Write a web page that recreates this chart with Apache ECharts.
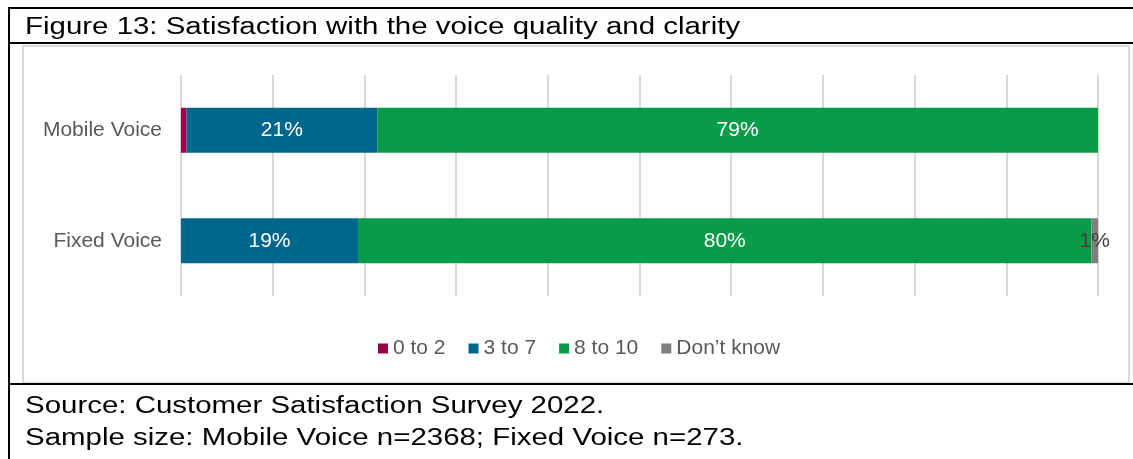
<!DOCTYPE html>
<html>
<head>
<meta charset="utf-8">
<script src="https://cdn.jsdelivr.net/npm/echarts@6/dist/echarts.min.js"></script>
<style>
    body { margin: 0; background: #fff; font-family: "Liberation Sans", Arial, sans-serif; }
    #page { position: relative; width: 1133px; height: 459px; overflow: hidden; }
    .hline { position: absolute; left: 8px; width: 1125px; height: 2px; background: #000; }
    .vline { position: absolute; left: 8px; top: 7px; width: 2px; height: 452px; background: #000; }
    .txt { position: absolute; left: 25px; font-size: 23px; color: #000; white-space: nowrap;
           transform: scaleX(1.28); transform-origin: left top; }
    #box { position: absolute; left: 22px; top: 45px; width: 1104px; height: 335px; border: 2px solid #d9d9d9; }
    #chart-container { position: absolute; left: 0; top: 0; width: 1133px; height: 459px; }
</style>
</head>
<body>
<div id="page">
    <div id="box"></div>
    <div id="chart-container"></div>
    <div class="hline" style="top:7px"></div>
    <div class="hline" style="top:42px"></div>
    <div class="hline" style="top:383px"></div>
    <div class="vline"></div>
    <div class="txt" style="top:13px">Figure 13: Satisfaction with the voice quality and clarity</div>
    <div class="txt" style="top:392px">Source: Customer Satisfaction Survey 2022.</div>
    <div class="txt" style="top:424px">Sample size: Mobile Voice n=2368; Fixed Voice n=273.</div>
</div>
<script>
    // values (percent)
    const categories = ['Mobile Voice', 'Fixed Voice'];
    const seriesNames = ['0 to 2', '3 to 7', '8 to 10', 'Don\u2019t know'];
    const score0to2 = [0.6, 0];
    const score3to7 = [20.8, 19.3];
    const score8to10 = [78.6, 80.0];
    const dontKnow = [0, 0.7];

    const colors = ['#990047', '#00668c', '#089b48', '#7f7f7f'];

    var dom = document.getElementById('chart-container');
    var myChart = echarts.init(dom, null, { renderer: 'canvas' });

    function makeSeries(name, data, color, labelColor, showLabel) {
        return {
            name: name,
            type: 'bar',
            stack: 'total',
            barWidth: 45,
            data: data,
            itemStyle: { color: color },
            label: {
                show: showLabel,
                position: 'inside',
                color: labelColor,
                fontSize: 21,
                fontFamily: 'Liberation Sans',
                formatter: (p) => p.value > 0 ? Math.round(p.value) + '%' : ''
            }
        };
    }

    var option = {
        animation: false,
        color: colors,
        legend: {
            left: 378,
            top: 338,
            padding: 0,
            icon: 'rect',
            itemWidth: 10,
            itemHeight: 10,
            itemGap: 23,
            textStyle: { color: '#595959', fontSize: 21, fontFamily: 'Liberation Sans' },
            data: seriesNames
        },
        grid: { left: 181, right: 35, top: 75, bottom: 163 },
        xAxis: {
            type: 'value',
            min: 0,
            max: 100,
            interval: 10,
            axisLabel: { show: false },
            axisLine: { show: false },
            axisTick: { show: false },
            splitLine: { lineStyle: { color: '#d9d9d9', width: 2 } }
        },
        yAxis: {
            type: 'category',
            inverse: true,
            data: categories,
            axisLine: { show: false },
            axisTick: { show: false },
            axisLabel: { color: '#595959', fontSize: 21, margin: 19, fontFamily: 'Liberation Sans' }
        },
        series: [
            makeSeries(seriesNames[0], score0to2, colors[0], '#fff', false),
            makeSeries(seriesNames[1], score3to7, colors[1], '#fff', true),
            makeSeries(seriesNames[2], score8to10, colors[2], '#fff', true),
            makeSeries(seriesNames[3], dontKnow, colors[3], '#404040', true)
        ]
    };

    myChart.setOption(option);
    window.addEventListener('resize', myChart.resize);
</script>
</body>
</html>
